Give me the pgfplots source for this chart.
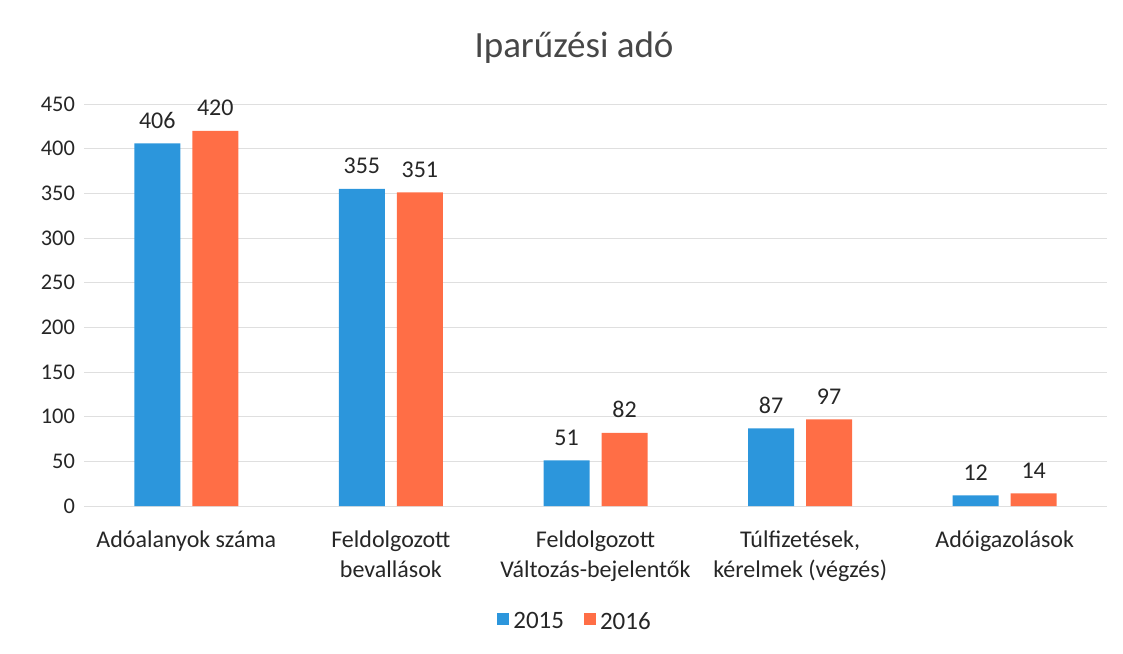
\documentclass[border=0pt]{standalone}
\usepackage{pgfplots}
\pgfplotsset{compat=1.18}
\usepackage{fontspec}
\setmainfont{Carlito}
\definecolor{bluebar}{HTML}{2C96DC}
\definecolor{orangebar}{HTML}{FF6E46}
\definecolor{txt}{HTML}{262626}
\begin{document}
\begin{tikzpicture}
\useasboundingbox (-42pt,-73.5pt) rectangle (519.5pt,253pt);
\begin{axis}[
    at={(0,0)}, anchor=south west,
    scale only axis, width=511.5pt, height=201pt,
    ybar, bar width=23pt,
    xmin=-0.5, xmax=4.5, ymin=0, ymax=450,
    ytick={0,50,...,450},
    xtick={0,1,2,3,4},
    xticklabels={{Adóalanyok száma}, {Feldolgozott\\bevallások}, {Feldolgozott\\Változás-bejelentők}, {Túlfizetések,\\kérelmek (végzés)}, {Adóigazolások}},
    xticklabel style={align=center, font=\fontsize{12}{15}\selectfont, text=txt, yshift=-9pt},
    yticklabel style={font=\fontsize{11.2}{13}\selectfont, text=txt, xshift=-1pt},
    /pgf/number format/assume math mode=true,
    major tick length=0pt,
    axis line style={draw=none},
    ymajorgrids, major grid style={gray!25, line width=0.5pt},
    nodes near coords,
    every node near coord/.append style={font=\fontsize{12}{14}\selectfont, text=txt, yshift=4pt},
    title={Iparűzési adó},
    title style={at={(0.479,1.11)}, anchor=center, font=\fontsize{18.5}{21}\selectfont, text=txt!85},
    legend style={at={(0.481,-0.289)}, anchor=center, draw=none, legend columns=2,
        font=\fontsize{12.5}{14}\selectfont, text=txt,
        /tikz/every even column/.append style={column sep=8pt}},
    legend image code/.code={\fill[#1] (0pt,-1.5pt) rectangle (6pt,4.5pt);},
]
\addplot[fill=bluebar, draw=none, bar shift=-14.5pt] coordinates {(0,406) (1,355) (2,51) (3,87) (4,12)};
\addplot[fill=orangebar, draw=none, bar shift=14.5pt] coordinates {(0,420) (1,351) (2,82) (3,97) (4,14)};
\legend{2015, 2016}
\end{axis}
\end{tikzpicture}
\end{document}
